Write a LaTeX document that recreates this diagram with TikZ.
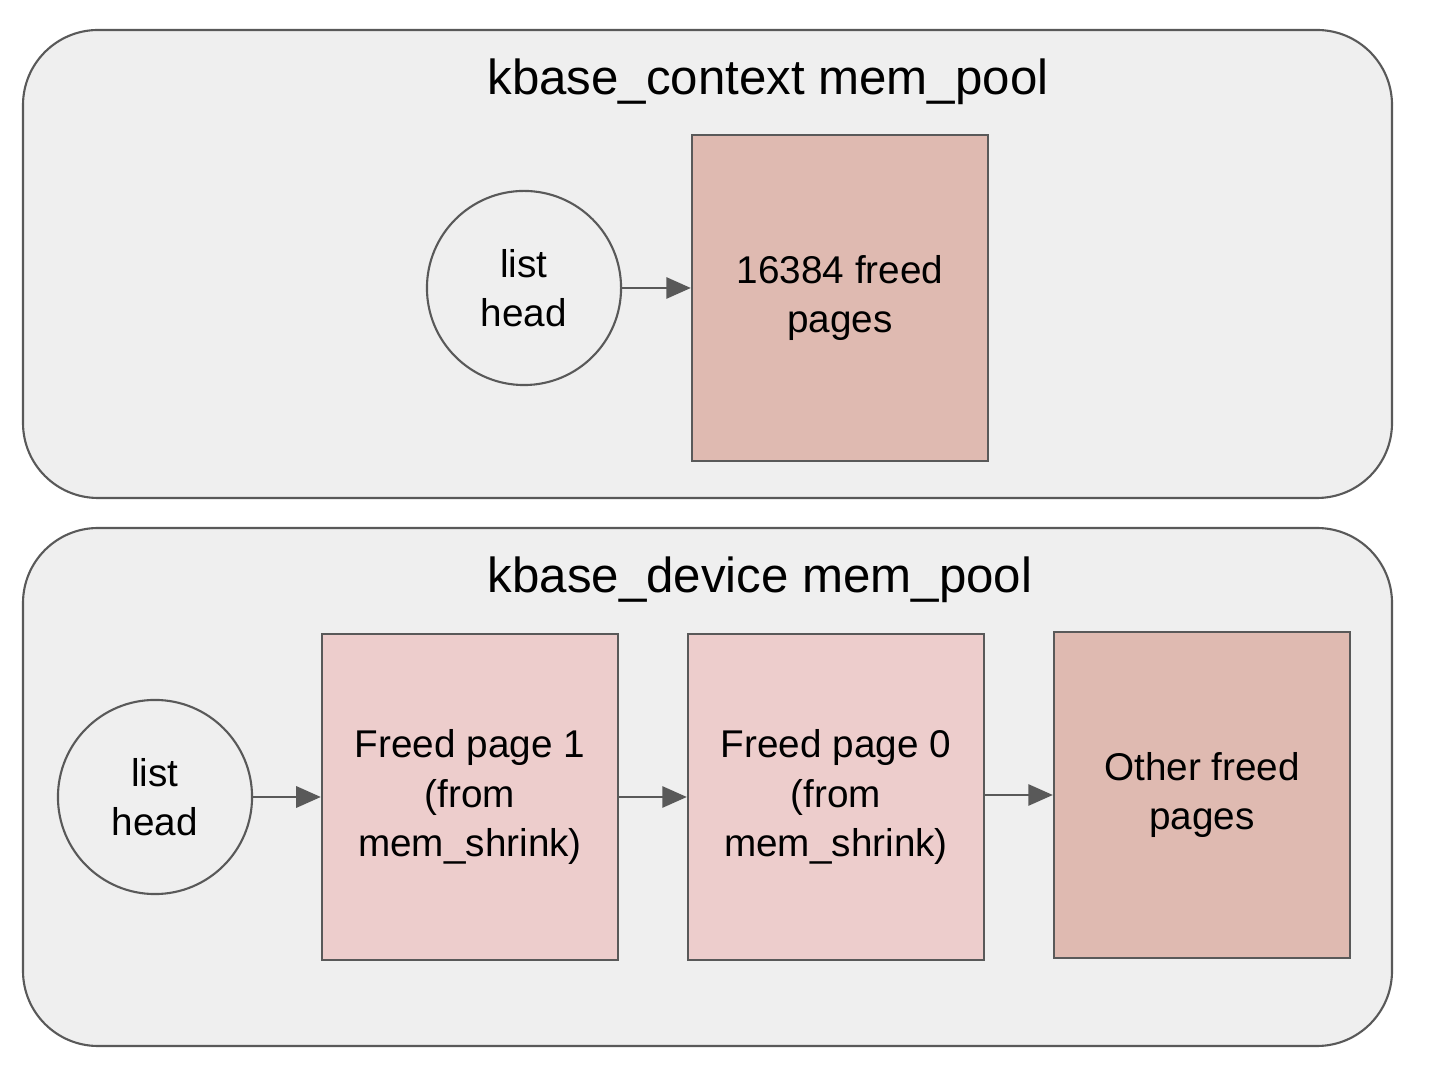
\documentclass[tikz,border=0pt]{standalone}
\usepackage{fontspec}
\setmainfont{Liberation Sans}
\usetikzlibrary{arrows.meta}
\definecolor{bg}{HTML}{EFEFEF}
\definecolor{ln}{HTML}{595959}
\definecolor{dk}{HTML}{DFBAB1}
\definecolor{lt}{HTML}{EDCDCC}
\tikzset{
 pool/.style={draw=ln,line width=0.6pt,fill=bg,rounded corners=0.75cm},
 lh/.style={circle,draw=ln,line width=0.6pt,minimum size=1.94cm,inner sep=0pt,align=center,font=\fontsize{11}{14}\selectfont},
 pg/.style={draw=ln,line width=0.6pt,minimum width=2.96cm,minimum height=3.26cm,inner sep=0pt,align=center,font=\fontsize{11}{14}\selectfont},
 ttl/.style={font=\fontsize{14}{17}\selectfont},
 arr/.style={-{Triangle[length=7pt,width=6pt]},draw=ln,line width=0.8pt}
}
\begin{document}
\begin{tikzpicture}[x=0.01cm,y=-0.01cm]
\useasboundingbox (0,0) rectangle (1446,1074);
\draw[pool] (23,30) rectangle (1392,498);
\draw[pool] (23,528) rectangle (1392,1046);
\node[ttl] (t1) at (768,82) {kbase\_context mem\_pool};
\node[ttl] (t2) at (760,580) {kbase\_device mem\_pool};
\node[lh] (c1) at (524,288) {list\\head};
\node[pg,fill=dk] (b0) at (840,298) {16384 freed\\pages};
\draw[arr] (c1) -- (b0.west|-c1);
\node[lh] (c2) at (155,797) {list\\head};
\node[pg,fill=lt] (b1) at (470,797) {Freed page 1\\(from\\mem\_shrink)};
\node[pg,fill=lt] (b2) at (836,797) {Freed page 0\\(from\\mem\_shrink)};
\node[pg,fill=dk] (b3) at (1202,795) {Other freed\\pages};
\draw[arr] (c2) -- (b1);
\draw[arr] (b1) -- (b2);
\draw[arr] (b2.east|-b3) -- (b3);
\end{tikzpicture}
\end{document}
